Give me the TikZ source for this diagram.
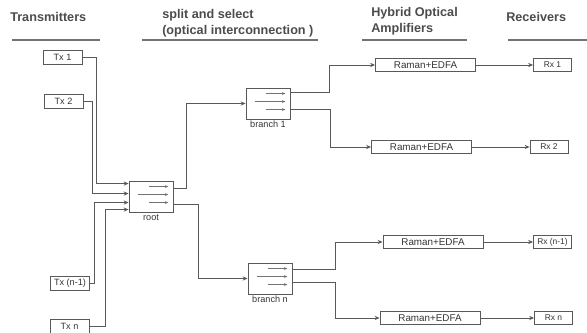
\documentclass[tikz,border=0pt]{standalone}
\usepackage{fontspec}
\setmainfont{Liberation Sans}
\usetikzlibrary{calc,arrows.meta}
\def\swlines(#1){%
  \draw[swarr] ($(#1.north west)+(20,6)$) -- ($(#1.north east)+(-5,6)$);
  \draw[swarr] ($(#1.north west)+(9,14)$) -- ($(#1.north east)+(-5,14)$);
  \draw[swarr] ($(#1.north west)+(20,22)$) -- ($(#1.north east)+(-5,22)$);}

\begin{document}
\begin{tikzpicture}[x=0.025cm, y=-0.025cm,
  wire/.style={draw=black!65, line width=0.6pt},
  arr/.style={wire, -{Stealth[length=3.5pt,width=3pt]}},
  swarr/.style={draw=black!55, line width=0.4pt, -{Stealth[length=2.5pt,width=2pt]}},
  nbox/.style={draw=black!65, line width=0.6pt, inner sep=0pt, font=\fontsize{6.5}{7}\selectfont, text=black!80},
  txbox/.style={nbox, minimum width=0.975cm, minimum height=0.35cm},
  ampbox/.style={nbox, minimum width=2.5cm, minimum height=0.33cm, font=\fontsize{7}{8}\selectfont},
  rxbox/.style={nbox, minimum width=0.95cm, minimum height=0.33cm, font=\fontsize{6}{7}\selectfont},
  swbox/.style={draw=black!65, line width=0.6pt, minimum width=1.1cm, minimum height=0.775cm, inner sep=0pt},
  lbl/.style={font=\fontsize{6.5}{7}\selectfont, text=black!80, inner sep=1pt},
  head/.style={font=\bfseries\fontsize{9}{11}\selectfont, text=black!70, align=left, anchor=west, inner sep=0pt},
  hrule/.style={draw=black!55, line width=0.8pt}]
  \useasboundingbox (0,0) rectangle (587,333);

  %%%%% headings %%%%%
  \node[head] (hdtx) at (10,17) {Transmitters};
  \node[head] (hdsw) at (162,23) {split and select\\(optical interconnection )};
  \node[head] (hdamp) at (371,21) {Hybrid Optical\\Amplifiers};
  \node[head] (hdrx) at (506,17) {Receivers};
  \draw[hrule] (12,40) -- (100,40);
  \draw[hrule] (142,40) -- (318,40);
  \draw[hrule] (362,40) -- (467,40);
  \draw[hrule] (508,40) -- (587,40);

  %%%%% transmitters %%%%%
  \node[txbox] (tx1) at (62.5,57) {Tx 1};
  \node[txbox] (tx2) at (63.5,101) {Tx 2};
  \node[txbox] (txn1) at (70,283) {Tx (n-1)};
  \node[txbox] (txn) at (69.5,326) {Tx n};

  %%%%% switches %%%%%
  \node[swbox] (root) at (151,196.5) {};
  \node[lbl, anchor=north] (rootlbl) at (root.south) {root};
  \swlines(root)
  \node[swbox] (br1) at (268,103.5) {};
  \node[lbl, anchor=north] (br1lbl) at (br1.south) {branch 1};
  \swlines(br1)
  \node[swbox] (brn) at (270,278.5) {};
  \node[lbl, anchor=north] (brnlbl) at (brn.south) {branch n};
  \swlines(brn)

  \coordinate (rin1) at ($(root.north west)+(0,3)$);
  \coordinate (rin2) at ($(root.north west)+(0,13)$);
  \coordinate (rin3) at ($(root.north west)+(0,22)$);
  \coordinate (rin4) at ($(root.north west)+(0,29)$);
  \coordinate (rout1) at ($(root.north east)+(0,8)$);
  \coordinate (rout2) at ($(root.north east)+(0,24)$);
  \coordinate (b1o1) at ($(br1.north east)+(0,5)$);
  \coordinate (b1o2) at ($(br1.north east)+(0,22)$);
  \coordinate (bno1) at ($(brn.north east)+(0,7)$);
  \coordinate (bno2) at ($(brn.north east)+(0,20)$);

  %%%%% amplifiers and receivers %%%%%
  \node[ampbox] (amp1) at (425.5,65) {Raman+EDFA};
  \node[ampbox] (amp2) at (421.5,147) {Raman+EDFA};
  \node[ampbox] (amp3) at (433,242) {Raman+EDFA};
  \node[ampbox] (amp4) at (430,318) {Raman+EDFA};
  \node[rxbox] (rx1) at (552.5,65) {Rx 1};
  \node[rxbox] (rx2) at (549,147) {Rx 2};
  \node[rxbox] (rxn1) at (552.5,242) {Rx (n-1)};
  \node[rxbox] (rxn) at (553.5,318) {Rx n};

  %%%%% links %%%%%
  \draw[arr] (tx1.east) -- ++(14,0) |- (rin1);
  \draw[arr] (tx2.east) -- ++(9,0) |- (rin2);
  \draw[arr] (txn1.east) -- ++(4,0) |- (rin3);
  \draw[arr] (txn.east) -- ++(16,0) |- (rin4);

  \draw[arr] (rout1) -- ++(13,0) |- (br1.west);
  \draw[arr] (rout2) -- ++(25,0) |- (brn.west);

  \draw[arr] (b1o1) -- ++(39,0) |- (amp1.west);
  \draw[arr] (b1o2) -- ++(40,0) |- (amp2.west);
  \draw[arr] (bno1) -- ++(43,0) |- (amp3.west);
  \draw[arr] (bno2) -- ++(43,0) |- (amp4.west);

  \draw[arr] (amp1) -- (rx1);
  \draw[arr] (amp2) -- (rx2);
  \draw[arr] (amp3) -- (rxn1);
  \draw[arr] (amp4) -- (rxn);
\end{tikzpicture}
\end{document}
